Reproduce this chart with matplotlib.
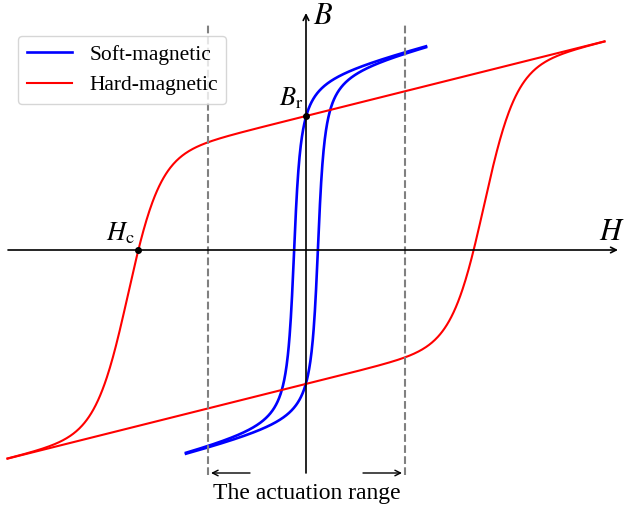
import numpy as np
import matplotlib.pyplot as plt

plt.rcParams['mathtext.fontset'] = 'stix'
plt.rcParams['font.family'] = 'Liberation Serif'

# hard-magnetic loop parameters
hard_slope = 0.25
hard_sat = 1.34
hard_shift = 1.78
hard_width = 0.32
hard_hmax = 2.985

# soft-magnetic loop parameters
soft_slope = 0.25
soft_sat = 1.78
soft_shift = 0.12
soft_width = 0.05
soft_hmax = 1.20

actuation_edge = [-0.98, 0.99]


def hard_down(h):
    return hard_slope * h + hard_sat * np.tanh((h + hard_shift) / hard_width)


def soft_down(h):
    return soft_slope * h + soft_sat * 2 / np.pi * np.arctan((h + soft_shift) / soft_width)


fig = plt.figure(figsize=(6.26, 5.12), dpi=100)
ax = fig.add_axes([0, 0, 1, 1])
ax.set_xlim(-3.06, 3.20)
ax.set_ylim(-2.62, 2.50)
ax.axis('off')

# axes with arrows
ax.annotate('', xy=(3.12, 0), xytext=(-2.98, 0),
            arrowprops=dict(arrowstyle='->', color='black', lw=1.2, shrinkA=0, shrinkB=0))
ax.annotate('', xy=(0, 2.37), xytext=(0, -2.23),
            arrowprops=dict(arrowstyle='->', color='black', lw=1.2, shrinkA=0, shrinkB=0))

h_hard = np.linspace(-hard_hmax, hard_hmax, 800)
h_soft = np.linspace(-soft_hmax, soft_hmax, 800)

ax.plot(h_soft, soft_down(h_soft), color='blue', lw=1.9, label='Soft-magnetic')
ax.plot(h_soft, -soft_down(-h_soft), color='blue', lw=1.9)
ax.plot(h_hard, hard_down(h_hard), color='red', lw=1.5, label='Hard-magnetic')
ax.plot(h_hard, -hard_down(-h_hard), color='red', lw=1.5)

# remanence and coercivity points
br = hard_down(0)
hh = np.linspace(-2.0, -1.4, 20001)
hc = hh[np.argmin(np.abs(hard_down(hh)))]
ax.plot([0, hc], [br, 0], 'o', color='black', ms=4, zorder=5)
ax.text(-0.03, br + 0.05, r'$B_\mathrm{r}$', fontsize=19, ha='right', va='bottom')
ax.text(hc - 0.03, 0.04, r'$H_\mathrm{c}$', fontsize=19, ha='right', va='bottom')
ax.text(0.07, 2.34, r'$B$', fontsize=22, ha='left', va='center')
ax.text(3.06, 0.18, r'$H$', fontsize=22, ha='center', va='center')

# actuation range
for xe in actuation_edge:
    ax.plot([xe, xe], [-2.25, 2.25], '--', color='gray', lw=1.5)
ax.annotate('', xy=(actuation_edge[0] + 0.03, -2.23), xytext=(-0.56, -2.23),
            arrowprops=dict(arrowstyle='->', color='black', lw=1, shrinkA=0, shrinkB=0))
ax.annotate('', xy=(actuation_edge[1] - 0.03, -2.23), xytext=(0.57, -2.23),
            arrowprops=dict(arrowstyle='->', color='black', lw=1, shrinkA=0, shrinkB=0))
ax.text(0.01, -2.44, 'The actuation range', fontsize=17, ha='center', va='center')

ax.legend(loc='upper left', bbox_to_anchor=(0.029, 0.93), borderaxespad=0,
          fontsize=15.5, handlelength=2.1)

fig.savefig('out.png', dpi=100)
